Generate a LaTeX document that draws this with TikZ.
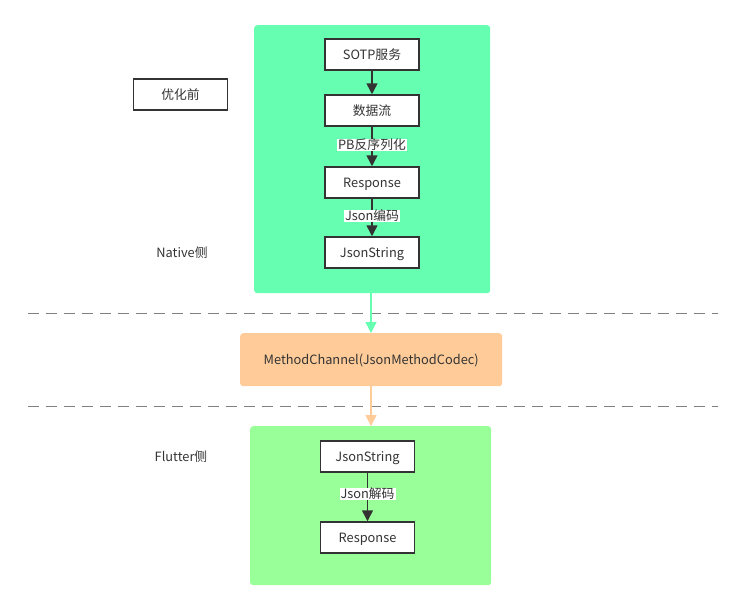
\documentclass[tikz,border=0pt]{standalone}
\usepackage{fontspec}
\setmainfont{Noto Sans CJK SC}
\usepackage{tikz}
\usetikzlibrary{positioning,arrows.meta}

\definecolor{nativegreen}{RGB}{102,255,178}
\definecolor{fluttergreen}{RGB}{153,255,153}
\definecolor{channelorange}{RGB}{255,204,153}
\definecolor{edgegray}{RGB}{51,51,51}
\definecolor{textgray}{RGB}{51,51,51}
\definecolor{dashgray}{RGB}{128,128,128}

\begin{document}
\begin{tikzpicture}[
  x=1pt, y=-1pt,
  font=\fontsize{12.8}{14}\selectfont, text=textgray,
  every node/.append style={text height=1.05em, text depth=0.08em},
  stepbox/.style={draw=edgegray, line width=1.5pt, fill=white, minimum width=94pt, minimum height=31pt, inner sep=0pt},
  area/.style={rounded corners=3pt, inner sep=0pt, anchor=north west},
  flow/.style={draw=edgegray, line width=1.5pt, -{Triangle[length=11pt, width=11pt]}},
  lbl/.style={fill=white, inner sep=1pt, text height=1.0em, text depth=0.08em, text=textgray}
]
% canvas, same size as the reference
\useasboundingbox (0,0) rectangle (742,611);

% column centres
\def\cN{372}
\def\cF{367.5}

% Native side area
\node[area, fill=nativegreen, minimum width=236pt, minimum height=268pt] (native) at (254,25) {};
% MethodChannel band
\node[area, fill=channelorange, minimum width=262pt, minimum height=53pt] (channel) at (240,333) {};
\node at (channel.center) {MethodChannel(JsonMethodCodec)};
% Flutter side area
\node[area, fill=fluttergreen, minimum width=241pt, minimum height=159pt] (flutter) at (250,426) {};

% dashed separators
\draw[dashgray, dash pattern=on 11pt off 7pt, line width=0.8pt] (28,313) -- (718,313);
\draw[dashgray, dash pattern=on 11pt off 7pt, line width=0.8pt] (28,406) -- (718,406);

% side labels
\node[stepbox] (before) at (180.5,94.5) {优化前};
\node (nativelbl) at (182,253) {Native侧};
\node (flutterlbl) at (181,457) {Flutter侧};

% Native steps
\node[stepbox] (sotp) at (\cN,54.5) {SOTP服务};
\node[stepbox] (stream) at (\cN,110.5) {数据流};
\node[stepbox] (resp) at (\cN,182.5) {Response};
\node[stepbox] (json) at (\cN,252.5) {JsonString};

\draw[flow] (sotp) -- (stream);
\draw[flow] (stream) -- node[lbl, pos=0.46] {PB反序列化} (resp);
\draw[flow] (resp) -- node[lbl, pos=0.46] {Json编码} (json);

% Flutter steps
\node[stepbox] (fjson) at (\cF,456.5) {JsonString};
\node[stepbox] (fresp) at (\cF,537.5) {Response};

\draw[flow] (fjson) -- node[lbl, pos=0.44] {Json解码} (fresp);

% hand-over arrows
\draw[draw=nativegreen, line width=1.5pt, -{Triangle[length=11pt, width=11pt]}] (371,293) -- (channel.north -| 371,0);
\draw[draw=channelorange, line width=1.5pt, -{Triangle[length=11pt, width=11pt]}] (channel.south -| 371,0) -- (flutter.north -| 371,0);

\end{tikzpicture}
\end{document}
